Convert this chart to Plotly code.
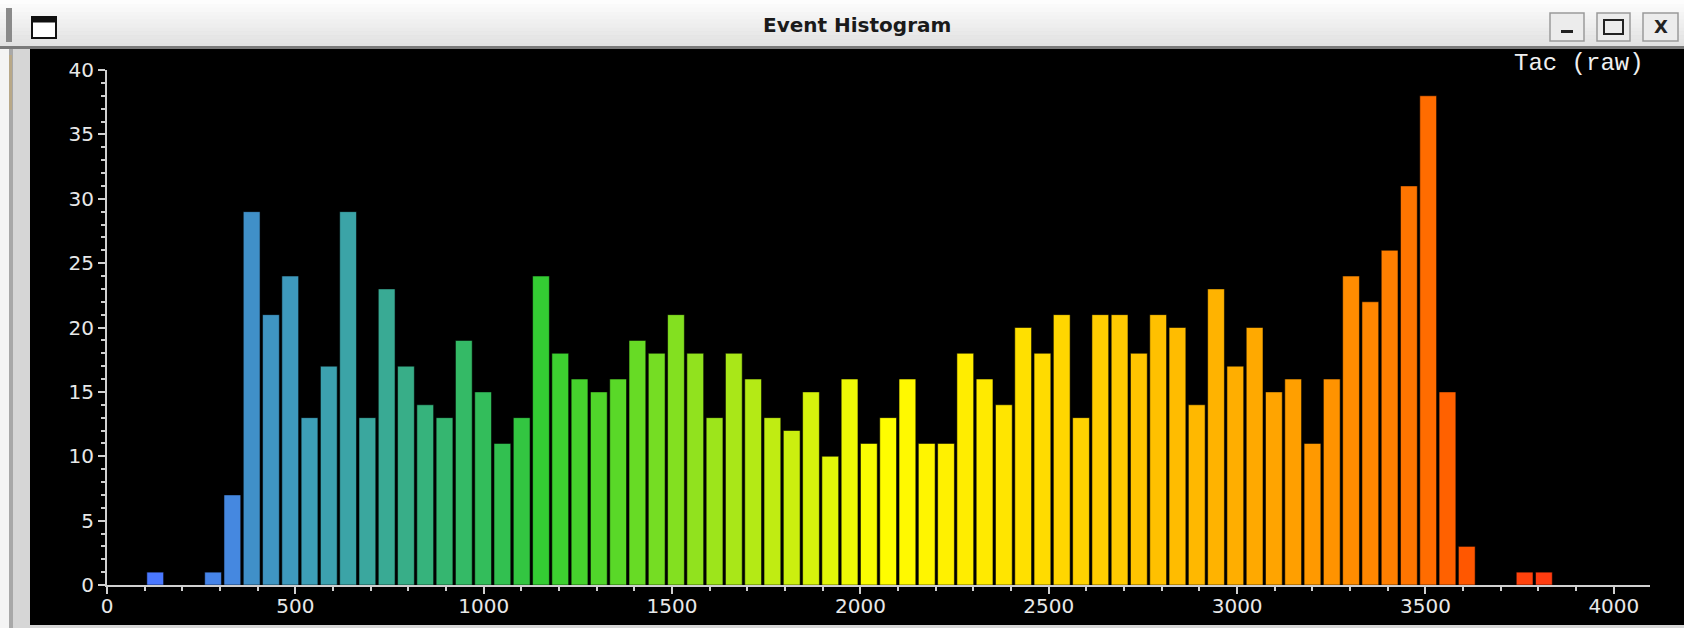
import numpy as np
import plotly.graph_objects as go

# ---------------- data ----------------
TITLE = "Event Histogram"
AXIS_LABEL = "Tac (raw)"
BIN_WIDTH = 51.2          # 4096 channels / 80 bins
COUNTS = [0, 0, 1, 0, 0, 1, 7, 29, 21, 24,
          13, 17, 29, 13, 23, 17, 14, 13, 19, 15,
          11, 13, 24, 18, 16, 15, 16, 19, 18, 21,
          18, 13, 18, 16, 13, 12, 15, 10, 16, 11,
          13, 16, 11, 11, 18, 16, 14, 20, 18, 21,
          13, 21, 21, 18, 21, 20, 14, 23, 17, 20,
          15, 16, 11, 16, 24, 22, 26, 31, 38, 15,
          3, 0, 0, 1, 1, 0, 0, 0, 0, 0]
X_TICKS = [0, 500, 1000, 1500, 2000, 2500, 3000, 3500, 4000]
Y_TICKS = [0, 5, 10, 15, 20, 25, 30, 35, 40]
X_RANGE = [0, 4096]
Y_RANGE = [0, 40]

# ---------------- geometry ----------------
W, H = 1684, 628
L, R, T, B = 107, 34, 70, 43
PW = W - L - R
PH = H - T - B


def px(x):
    return (x - L) / PW


def py(y):
    return (H - B - y) / PH


counts = np.array(COUNTS, dtype=float)
idx = np.arange(len(counts))
centers = (idx + 0.5) * BIN_WIDTH
mask = counts > 0

colorscale = [
    [0.00, "#4a70ff"], [0.031, "#4a78ff"], [0.081, "#4588e0"], [0.094, "#4090c8"],
    [0.137, "#3ca0b4"], [0.175, "#3aa89a"], [0.21, "#36b478"], [0.256, "#32c050"],
    [0.28, "#33cc33"], [0.33, "#58d828"], [0.38, "#90e21e"], [0.44, "#c8ee10"],
    [0.50, "#ffff00"], [0.58, "#ffe600"], [0.63, "#ffd200"], [0.706, "#ffb800"],
    [0.78, "#ff9a00"], [0.83, "#ff8000"], [0.856, "#ff6c00"], [0.88, "#ff5800"],
    [0.93, "#ff3c10"], [1.0, "#ff2000"],
]

fig = go.Figure()
fig.add_trace(go.Bar(
    x=centers[mask], y=counts[mask],
    marker=dict(color=centers[mask], colorscale=colorscale, cmin=X_RANGE[0], cmax=X_RANGE[1],
                line=dict(color="rgba(0,0,0,0.55)", width=1)),
    hoverinfo="x+y", showlegend=False,
))

axis_col = "#d0d0d0"
tick_font = dict(family="DejaVu Sans", size=20, color="#e8e8e8")
fig.update_layout(
    width=W, height=H,
    margin=dict(l=L, r=R, t=T, b=B, pad=0),
    paper_bgcolor="#d6d6d6", plot_bgcolor="#000000",
    bargap=0.13,
    font=dict(family="DejaVu Sans", size=20, color="#e8e8e8"),
    xaxis=dict(range=X_RANGE, tickvals=X_TICKS, ticktext=[str(v) for v in X_TICKS],
               automargin=False, ticklabelstandoff=-5,
               showgrid=False, zeroline=False, showline=True, linecolor=axis_col, linewidth=2,
               ticks="outside", ticklen=7, tickwidth=2, tickcolor=axis_col,
               minor=dict(dtick=100, ticks="outside", ticklen=4, tickwidth=2, tickcolor=axis_col),
               tickfont=tick_font),
    yaxis=dict(range=Y_RANGE, tickvals=Y_TICKS, ticktext=[str(v) for v in Y_TICKS],
               automargin=False,
               showgrid=False, zeroline=False, showline=True, linecolor=axis_col, linewidth=2,
               ticks="outside", ticklen=7, tickwidth=2, tickcolor=axis_col,
               minor=dict(dtick=1, ticks="outside", ticklen=4, tickwidth=2, tickcolor=axis_col),
               tickfont=tick_font),
)

shapes = []


def rect(x0, y0, x1, y1, fill, line=None, lw=0, layer="below"):
    shapes.append(dict(type="rect", xref="paper", yref="paper",
                       x0=px(x0), x1=px(x1), y0=py(y1), y1=py(y0),
                       fillcolor=fill, line=dict(color=line or fill, width=lw), layer=layer))


# window frame
rect(0, 0, W, H, "#d6d6d6")
rect(0, 0, 9, H, "#f4f4f4")
rect(9, 48, 13, H, "#a8a8a8")
rect(9, 55, 12, 110, "#b8a888")
# title bar gradient
top = np.array([253, 253, 253])
bot = np.array([226, 226, 226])
nb = 12
for i in range(nb):
    c = top + (bot - top) * i / (nb - 1)
    rect(0, 47 * i / nb, W, 47 * (i + 1) / nb + 0.5, "rgb(%d,%d,%d)" % tuple(c))
rect(0, 46, W, 49, "#7a7a7a")
rect(6, 8, 12, 42, "#8a8a8a")
# black canvas
rect(30, 49, W, 625, "#000000")
# window icon
rect(32, 17, 56, 38, "#ffffff", "#111111", 2)
rect(32, 17, 56, 22, "#111111", "#111111", 1)
# buttons
for (x0, x1) in [(1550, 1584), (1597, 1630), (1643, 1678)]:
    rect(x0, 13, x1, 41, "#ececec", "#9a9a9a", 1.5)
rect(1604, 20, 1623, 34, "rgba(0,0,0,0)", "#222222", 2)
rect(1561, 30, 1573, 33, "#222222")

fig.update_layout(shapes=shapes)

ann = [
    dict(text="<b>%s</b>" % TITLE, x=px(857), y=py(25), xref="paper", yref="paper",
         showarrow=False, font=dict(family="DejaVu Sans", size=20, color="#1a1a1a"),
         xanchor="center", yanchor="middle"),
    dict(text=AXIS_LABEL, x=px(1646), y=py(64), xref="paper", yref="paper",
         showarrow=False, font=dict(family="Liberation Mono", size=24, color="#f0f0f0"),
         xanchor="right", yanchor="middle"),
    dict(text="<b>X</b>", x=px(1660.5), y=py(27), xref="paper", yref="paper",
         showarrow=False, font=dict(family="DejaVu Sans", size=18, color="#222222"),
         xanchor="center", yanchor="middle"),
]
fig.update_layout(annotations=ann)

fig.write_html("out.html", config={"displayModeBar": False},
               post_script="document.body.style.margin='0';")
